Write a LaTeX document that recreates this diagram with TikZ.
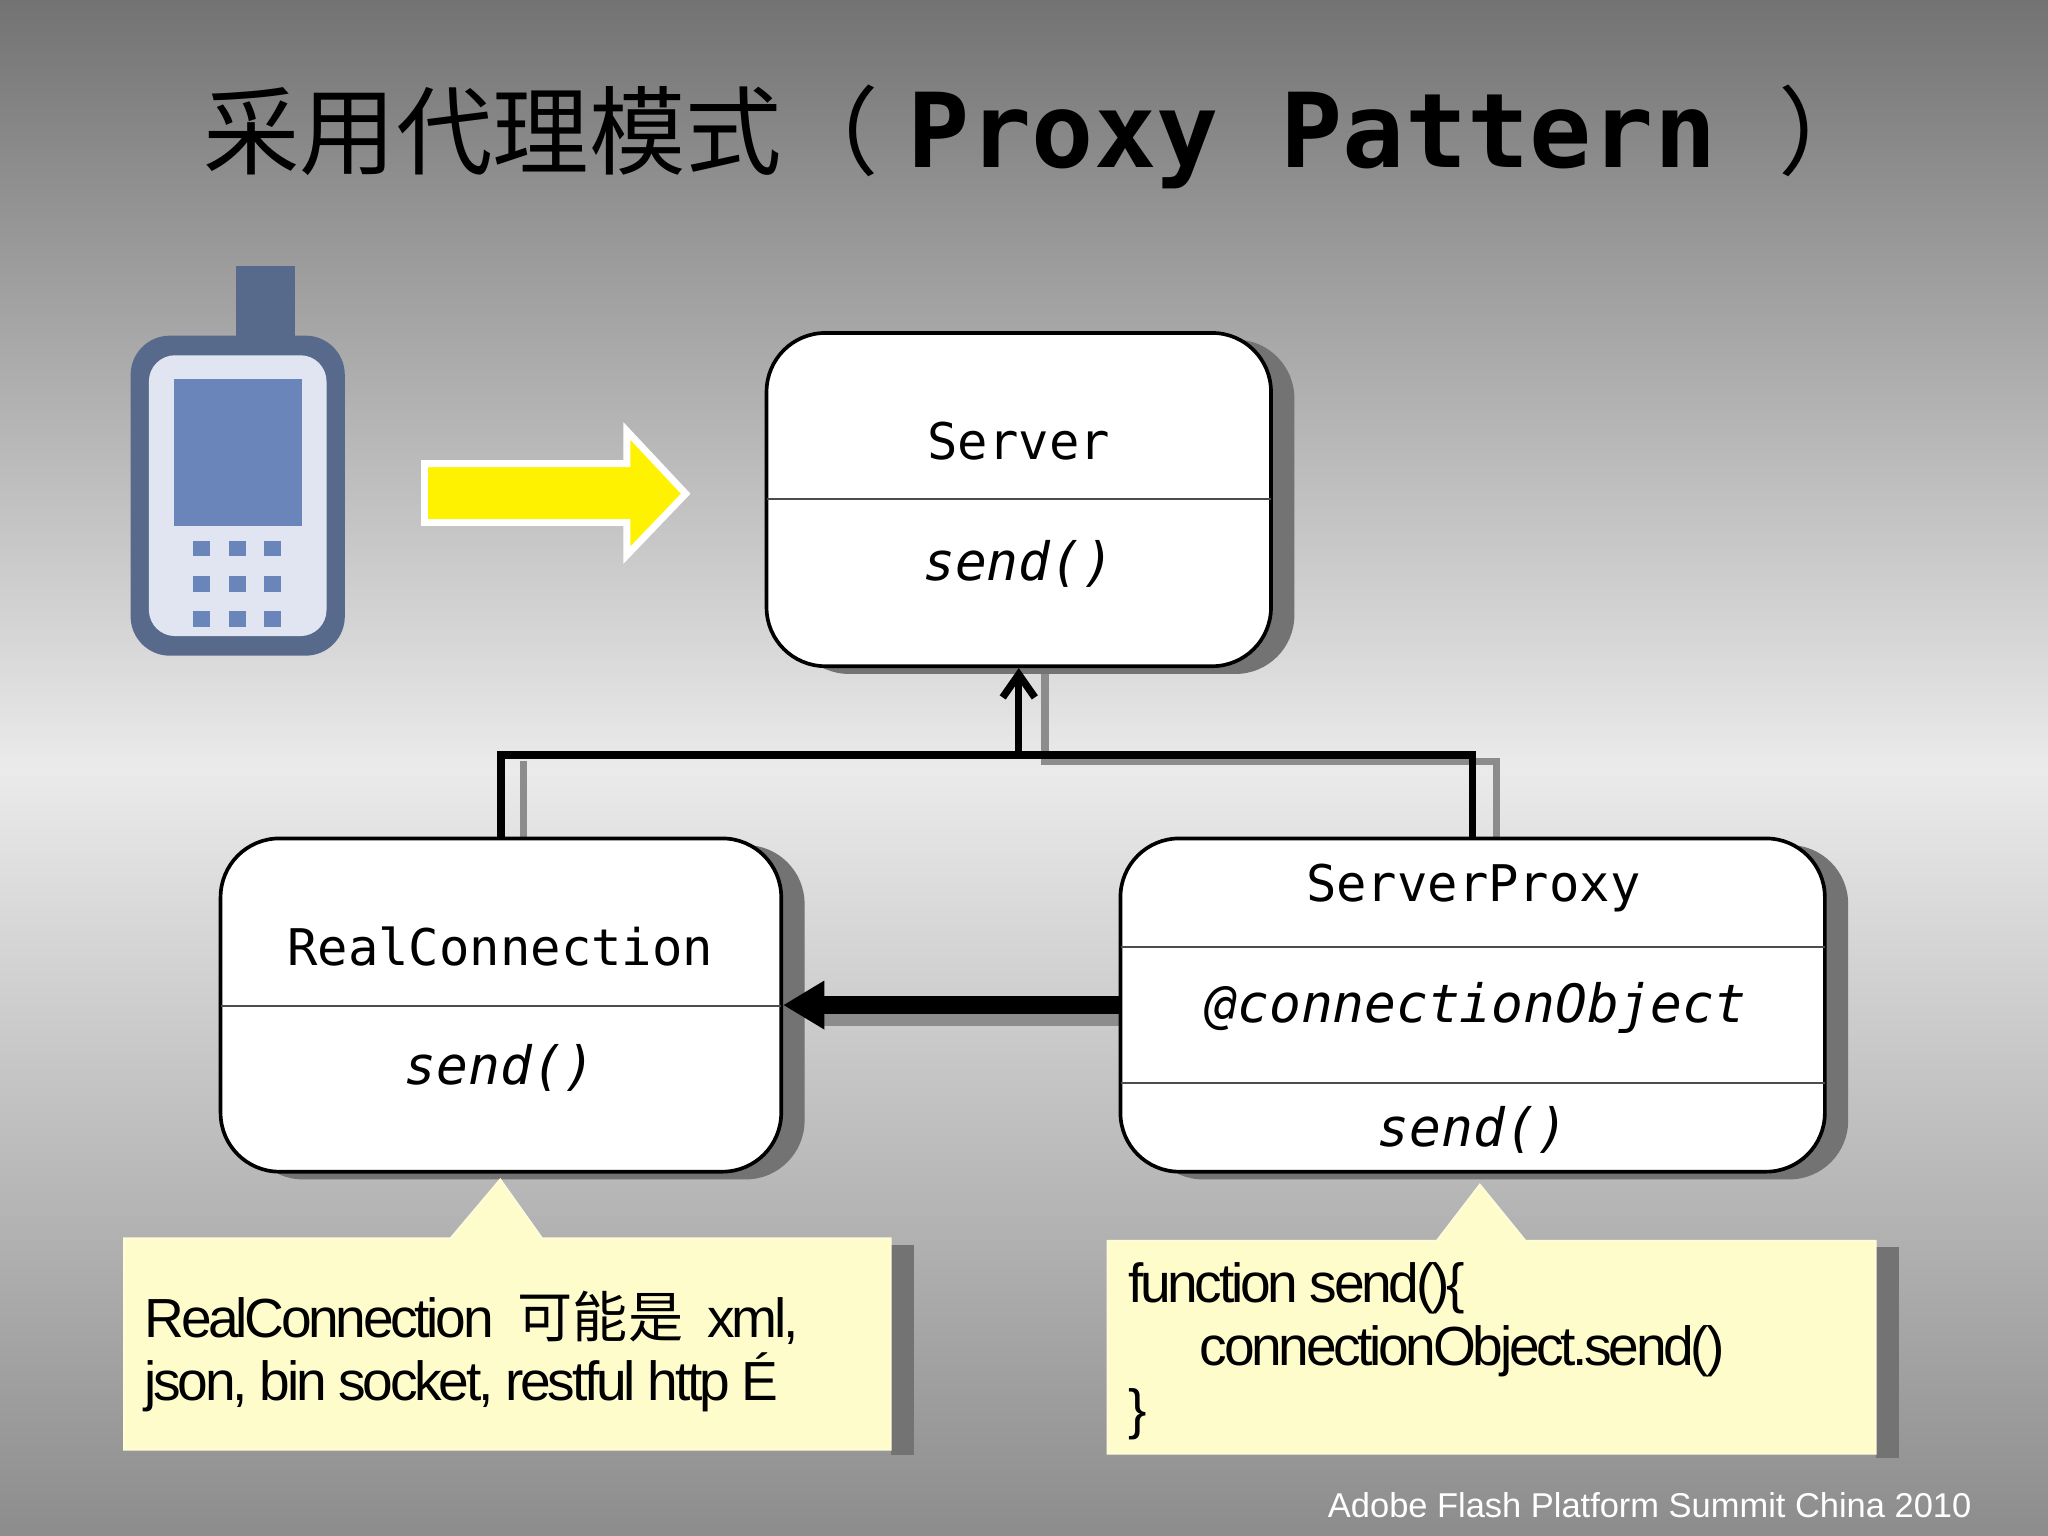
\documentclass[tikz,border=0pt]{standalone}
\usepackage{fontspec}
\setmainfont{Liberation Sans}
\newfontfamily\cjk{Noto Sans CJK SC}
\newfontfamily\mono{DejaVu Sans Mono}
\newfontfamily\tight[LetterSpace=-6]{Liberation Sans}
\usetikzlibrary{arrows.meta,shapes.geometric}
\begin{document}
\begin{tikzpicture}[x=0.01cm,y=-0.01cm,
  box/.style={draw=black,thick,fill=white,rounded corners=0.45cm,inner sep=0},
  shadow/.style={fill=black!55,rounded corners=0.45cm},
  lbl/.style={font=\mono\fontsize{11}{13}\selectfont},
  op/.style={font=\mono\itshape\fontsize{11.5}{13}\selectfont},
  note/.style={fill=yellow!20!white,draw=white!85!yellow,thin},
  conn/.style={line width=1.6pt,black},
  sconn/.style={line width=1.6pt,black!45}]
\useasboundingbox (0,0) rectangle (1568,1176);
\shade[top color=black!55,bottom color=black!45,middle color=black!8] (0,0) rectangle (1568,1176);
% title
\node[anchor=base west,inner sep=0] (title) at (155,128) {\cjk\fontsize{21}{25}\selectfont 采用代理模式（\hspace{0.3em}{\mono\bfseries\fontsize{22.5}{25}\selectfont Proxy Pattern }）};
% phone
\fill[fill={rgb,255:red,88;green,106;blue,140}] (181,204) rectangle (226,262);
\fill[rounded corners=0.3cm,fill={rgb,255:red,88;green,106;blue,140}] (100,257) rectangle (264,502);
\fill[rounded corners=0.2cm,fill={rgb,255:red,225;green,229;blue,242}] (114,272) rectangle (250,487);
\fill[fill={rgb,255:red,106;green,133;blue,185}] (133,290) rectangle (231,403);
\foreach \i in {0,1,2}\foreach \j in {0,1,2}
  \fill[fill={rgb,255:red,106;green,133;blue,185}] (148+\i*27,414+\j*27) rectangle (161+\i*27,426+\j*27);
% yellow arrow
\draw[white,line width=1.5pt,fill=yellow] (325,355) -- (480,355) -- (480,330) -- (525,378) -- (480,425) -- (480,400) -- (325,400) -- cycle;
% shadows
\fill[shadow] (605,260) rectangle (991,516);
\fill[shadow] (187,647) rectangle (616,903);
\fill[shadow] (876,647) rectangle (1415,903);
\fill[black!55] (682,953) rectangle (700,1114);
\fill[black!55] (1436,955) rectangle (1454,1116);
% shadow connectors
\draw[sconn] (800,516) -- (800,583) -- (1146,583) -- (1146,642);
\draw[sconn] (401,583) -- (401,642);
\draw[black!45,line width=6pt] (876,775) -- (630,775);
% boxes
\node[box,minimum width=3.86cm,minimum height=2.55cm] (server) at (780,382.5) {};
\draw[black!70] (587,382) -- (973,382);
\node[lbl] (sname) at (780,338) {Server};
\node[op] (ssend) at (780,432) {send()};
\node[box,minimum width=4.29cm,minimum height=2.55cm] (real) at (383.5,769.5) {};
\draw[black!70] (169,770) -- (598,770);
\node[lbl] (rname) at (383,725) {RealConnection};
\node[op] (rsend) at (383,818) {send()};
\node[box,minimum width=5.39cm,minimum height=2.55cm] (proxy) at (1127.5,769.5) {};
\draw[black!70] (858,725) -- (1397,725);
\draw[black!70] (858,829) -- (1397,829);
\node[lbl] (pname) at (1128,680) {ServerProxy};
\node[op] (pobj) at (1130,772) {@connectionObject};
\node[op] (psend) at (1128,865) {send()};
% connectors
\coordinate (j1) at (780,578);
\draw[conn,-{Straight Barb[length=5pt,width=7pt]}] (j1) -- (server.south);
\draw[conn] (real.north) |- (j1) -| (proxy.north);
\draw[line width=4pt,-{Triangle[length=9pt,width=10pt]}] (proxy.west) -- (real.east);
% notes
\draw[note] (95,948) -- (345,948) -- (383,903) -- (415,948) -- (682,948) -- (682,1110) -- (95,1110) -- cycle;
\node[anchor=north west,align=left,inner sep=0,font=\tight\fontsize{12}{13.7}\selectfont] (n1) at (110,988) {RealConnection\ \ {\cjk 可能是}\ \ xml,\\json, bin socket, restful http É};
\draw[note] (848,950) -- (1100,950) -- (1133,907) -- (1168,950) -- (1436,950) -- (1436,1113) -- (848,1113) -- cycle;
\node[anchor=north west,align=left,inner sep=0,font=\tight\fontsize{12}{13.7}\selectfont] (n2) at (863,966) {function send()\{\\\hspace*{1.3em}connectionObject.send()\\\}};
% footer
\node[anchor=base east,inner sep=0,white,font=\fontsize{7.5}{9}\selectfont] (foot) at (1510,1162) {Adobe Flash Platform Summit China 2010};
\end{tikzpicture}
\end{document}
